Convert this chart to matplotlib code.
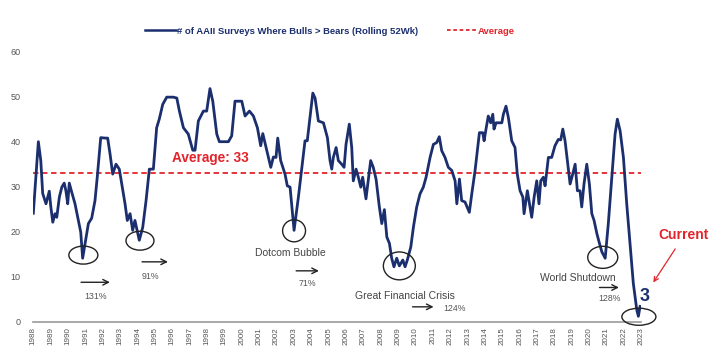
import matplotlib.pyplot as plt
from matplotlib.lines import Line2D
from matplotlib.patches import Ellipse

# Rolling 52-week count of AAII surveys where bulls > bears
years = [
    1988.00, 1988.29, 1988.43, 1988.54, 1988.73, 1988.92, 1989.00, 1989.12, 1989.25, 1989.35,
    1989.50, 1989.64, 1989.78, 1989.88, 1989.98, 1990.07, 1990.21, 1990.40, 1990.59, 1990.73,
    1990.84, 1990.98, 1991.17, 1991.36, 1991.55, 1991.68, 1991.88, 1992.13, 1992.28, 1992.42,
    1992.57, 1992.76, 1992.95, 1993.09, 1993.28, 1993.41, 1993.57, 1993.72, 1993.85, 1993.95,
    1994.10, 1994.30, 1994.49, 1994.68, 1994.91, 1995.10, 1995.25, 1995.45, 1995.68, 1996.06,
    1996.26, 1996.41, 1996.64, 1996.92, 1997.18, 1997.31, 1997.50, 1997.79, 1997.98, 1998.17,
    1998.33, 1998.56, 1998.71, 1999.23, 1999.42, 1999.61, 2000.00, 2000.19, 2000.44, 2000.67,
    2000.90, 2001.09, 2001.21, 2001.44, 2001.67, 2001.82, 2001.97, 2002.07, 2002.24, 2002.49,
    2002.62, 2002.78, 2003.01, 2003.26, 2003.51, 2003.64, 2003.77, 2004.09, 2004.22, 2004.41,
    2004.70, 2004.93, 2005.08, 2005.18, 2005.27, 2005.43, 2005.56, 2005.75, 2005.89, 2006.00,
    2006.19, 2006.33, 2006.42, 2006.58, 2006.71, 2006.85, 2006.96, 2007.15, 2007.42, 2007.57,
    2007.73, 2007.92, 2008.06, 2008.21, 2008.35, 2008.50, 2008.63, 2008.76, 2008.92, 2009.07,
    2009.27, 2009.40, 2009.53, 2009.73, 2009.88, 2010.07, 2010.26, 2010.45, 2010.61, 2010.84,
    2011.03, 2011.22, 2011.37, 2011.51, 2011.70, 2011.89, 2012.09, 2012.28, 2012.38, 2012.53,
    2012.66, 2012.85, 2013.10, 2013.24, 2013.43, 2013.68, 2013.87, 2013.95, 2014.06, 2014.19,
    2014.33, 2014.45, 2014.52, 2014.64, 2014.97, 2015.06, 2015.21, 2015.35, 2015.54, 2015.73,
    2015.86, 2016.02, 2016.18, 2016.25, 2016.44, 2016.56, 2016.69, 2016.83, 2016.98, 2017.11,
    2017.21, 2017.36, 2017.46, 2017.65, 2017.84, 2018.03, 2018.22, 2018.36, 2018.48, 2018.61,
    2018.74, 2018.90, 2019.05, 2019.19, 2019.32, 2019.47, 2019.57, 2019.70, 2019.86, 2020.01,
    2020.15, 2020.28, 2020.44, 2020.59, 2020.73, 2020.92, 2021.10, 2021.30, 2021.49, 2021.62,
    2021.78, 2021.97, 2022.16, 2022.35, 2022.54, 2022.74, 2022.83, 2022.93,
]
bulls_gt_bears = [
    24.1, 40.0, 35.8, 28.5, 26.2, 29.0, 25.8, 22.1, 24.0, 23.2,
    27.7, 29.9, 30.8, 29.0, 26.2, 30.8, 28.8, 26.2, 22.5, 19.9,
    14.1, 17.4, 21.8, 23.0, 26.9, 32.1, 40.9, 40.8, 40.8, 37.2,
    32.8, 35.0, 33.9, 30.6, 26.2, 22.5, 24.0, 20.3, 22.5, 20.7,
    18.1, 21.0, 26.9, 33.9, 33.9, 43.1, 45.0, 48.3, 49.9, 49.9,
    49.7, 46.8, 43.1, 41.7, 38.1, 38.1, 44.6, 46.8, 46.8, 51.8,
    49.0, 41.7, 40.0, 40.0, 41.3, 49.0, 49.0, 45.7, 46.8, 45.7,
    43.1, 39.1, 41.8, 38.0, 34.3, 36.6, 36.5, 40.8, 35.8, 32.8,
    30.2, 29.9, 20.3, 27.7, 35.8, 40.2, 40.2, 50.8, 49.7, 44.6,
    44.2, 40.9, 35.8, 33.9, 36.5, 38.7, 35.8, 35.0, 34.3, 39.4,
    43.9, 38.7, 31.3, 33.9, 32.1, 29.9, 32.1, 27.3, 35.8, 34.3,
    31.7, 25.5, 21.8, 24.9, 18.8, 17.4, 14.1, 12.2, 14.1, 12.4,
    13.7, 12.2, 13.7, 16.6, 21.0, 25.5, 28.4, 29.9, 32.1, 36.5,
    39.4, 39.8, 41.1, 38.0, 36.5, 34.3, 33.6, 31.3, 26.2, 31.7,
    26.9, 26.6, 24.3, 28.4, 33.6, 42.0, 42.0, 40.2, 42.8, 45.7,
    44.2, 46.1, 42.8, 44.2, 44.2, 46.1, 47.9, 45.3, 40.2, 38.7,
    32.8, 29.1, 27.7, 24.0, 29.1, 26.2, 23.2, 27.7, 31.3, 26.2,
    31.3, 32.1, 30.2, 36.5, 36.5, 39.1, 40.5, 40.4, 42.8, 40.2,
    35.8, 30.6, 32.8, 35.0, 29.1, 29.1, 25.5, 30.6, 35.0, 30.6,
    24.0, 22.5, 19.6, 17.4, 15.5, 14.1, 21.8, 32.1, 41.7, 45.0,
    42.4, 36.5, 26.2, 17.4, 8.5, 2.6, 1.2, 3.4,
]
AVERAGE = 33
CURRENT = 3

tick_years = list(range(1988, 2024))
y_ticks = [0, 10, 20, 30, 40, 50, 60]

# (label, trough year, trough value, forward return)
events = [
    ("", 1990.88, 14.8, "131%"),
    ("", 1994.14, 18.0, "91%"),
    ("Dotcom Bubble", 2003.01, 20.2, "71%"),
    ("Great Financial Crisis", 2009.07, 12.4, "124%"),
    ("World Shutdown", 2020.78, 14.3, "128%"),
]

NAVY = "#1b2f6e"
RED = "#e3242b"
GREY = "#555555"

plt.rcParams["font.family"] = ["Liberation Sans", "DejaVu Sans"]

fig = plt.figure(figsize=(7.18, 3.61), dpi=100)
fig.patch.set_facecolor("white")
ax = fig.add_axes([0.0464, 0.1089, 0.8468, 0.7479])

ax.plot(years, bulls_gt_bears, color=NAVY, lw=2.0, zorder=3)
ax.axhline(AVERAGE, color=RED, lw=1.3, ls=(0, (3, 2)), zorder=2)

ax.set_xlim(1988, 2023)
ax.set_ylim(0, 60)
ax.set_xticks(tick_years)
ax.set_xticklabels([str(y) for y in tick_years], rotation=90, fontsize=5.8, color=GREY)
ax.set_yticks(y_ticks)
ax.set_yticklabels([str(v) for v in y_ticks], fontsize=6.5, color=GREY)
ax.tick_params(axis="both", length=0)
ax.tick_params(axis="x", pad=4)
ax.tick_params(axis="y", pad=9)
for side in ["top", "right", "left"]:
    ax.spines[side].set_visible(False)
ax.spines["bottom"].set_color("#9a9a9a")
ax.spines["bottom"].set_linewidth(1.2)

ax.text(1995.98, 36.4, f"Average: {AVERAGE}", color=RED, fontsize=9.8,
        fontweight="bold", va="center", ha="left")

# trough circles
ell_size = [(1.67, 4.0), (1.61, 4.2), (1.32, 4.9), (1.84, 6.2), (1.73, 4.9)]
for (name, yr, val, ret), (w, h) in zip(events, ell_size):
    ax.add_patch(Ellipse((yr, val), w, h, fill=False, ec="#222222", lw=1.0,
                         zorder=4, clip_on=False))

ax.add_patch(Ellipse((2022.86, 1.1), 1.96, 3.8, fill=False, ec="#222222", lw=1.0,
                     zorder=4, clip_on=False))

arrow_kw = dict(arrowstyle="->", color="#222222", lw=1.0, mutation_scale=10)
# (arrow start, arrow end, arrow value, return label position)
arrows = [
    (1990.59, 1992.57, 8.76, (1991.61, 5.6)),
    (1994.10, 1995.91, 13.3, (1994.72, 10.0)),
    (2002.97, 2004.60, 11.3, (2003.77, 8.5)),
    (2009.67, 2011.20, 3.3, (2011.59, 3.0)),
    (2020.43, 2021.87, 7.6, (2021.17, 5.2)),
]
for (name, yr, val, ret), (x0, x1, yv, (tx, ty)) in zip(events, arrows):
    ax.annotate("", xy=(x1, yv), xytext=(x0, yv), arrowprops=arrow_kw,
                annotation_clip=False)
    ha = "left" if name == "Great Financial Crisis" else "center"
    ax.text(tx, ty, ret, fontsize=6.3, color=GREY, ha=ha, va="center")

ax.text(2002.78, 15.2, "Dotcom Bubble", fontsize=7.5, color="#444444",
        ha="center", va="center")
ax.text(2009.38, 5.7, "Great Financial Crisis", fontsize=7.5, color="#444444",
        ha="center", va="center")
ax.text(2019.36, 9.8, "World Shutdown", fontsize=7.5, color="#444444",
        ha="center", va="center")

ax.text(2022.93, 5.6, str(CURRENT), fontsize=13, fontweight="bold", color=NAVY,
        ha="left", va="center")
ax.text(2025.46, 19.3, "Current", fontsize=10, fontweight="bold", color=RED,
        ha="center", va="center", clip_on=False)
ax.annotate("", xy=(2023.6, 8.2), xytext=(2025.04, 16.7),
            arrowprops=dict(arrowstyle="->", color=RED, lw=0.9, mutation_scale=8),
            annotation_clip=False)

handles = [
    Line2D([], [], color=NAVY, lw=1.8),
    Line2D([], [], color=RED, lw=1.3, ls=(0, (2, 1.5))),
]
leg = fig.legend(handles,
                 ["# of AAII Surveys Where Bulls > Bears (Rolling 52Wk)", "Average"],
                 loc="center", bbox_to_anchor=(0.46, 0.914), ncol=2, frameon=False,
                 prop={"weight": "bold", "size": 6.8}, handlelength=3.2,
                 handletextpad=0.15, columnspacing=3.0)
leg.get_texts()[0].set_color(NAVY)
leg.get_texts()[1].set_color(RED)

fig.savefig("out.png", dpi=100, facecolor="white")
